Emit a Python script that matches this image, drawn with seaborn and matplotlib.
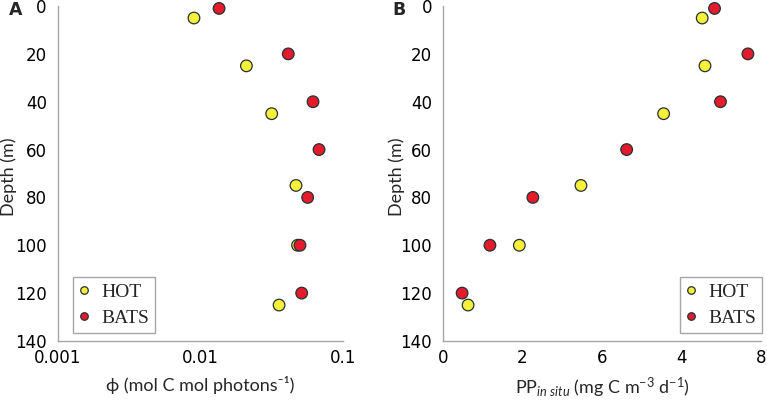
import pandas as pd
import matplotlib
matplotlib.use("Agg")
import matplotlib.pyplot as plt
import seaborn as sns

# depths (m)
hot_depth = [5, 25, 45, 75, 100, 125]
bats_depth = [1, 20, 40, 60, 80, 100, 120]

# panel A: quantum yield phi (mol C mol photons-1)
hot_phi = [0.0090, 0.0210, 0.0316, 0.0468, 0.0480, 0.0356]
bats_phi = [0.0135, 0.0413, 0.0616, 0.0679, 0.0565, 0.0499, 0.0513]

# panel B: in situ primary production
hot_pp = [6.52, 6.59, 5.55, 3.47, 1.92, 0.63]
bats_pp = [6.83, 7.67, 6.98, 4.62, 2.26, 1.18, 0.48]

y_ticks = [0, 20, 40, 60, 80, 100, 120, 140]
a_xticks = [0.001, 0.01, 0.1]
a_xticklabels = ['0.001', '0.01', '0.1']
b_xticks = [0, 2, 4, 6, 8]
b_xticklabels = ['0', '2', '6', '4', '8']

df_a = pd.DataFrame({
    'x': hot_phi + bats_phi,
    'depth': hot_depth + bats_depth,
    'site': ['HOT'] * len(hot_phi) + ['BATS'] * len(bats_phi),
})
df_b = pd.DataFrame({
    'x': hot_pp + bats_pp,
    'depth': hot_depth + bats_depth,
    'site': ['HOT'] * len(hot_pp) + ['BATS'] * len(bats_pp),
})

sns.set_style("white")
plt.rcParams['font.family'] = ['DejaVu Sans']
plt.rcParams['mathtext.fontset'] = 'custom'
plt.rcParams['mathtext.rm'] = 'Lato'
plt.rcParams['mathtext.it'] = 'Lato:italic'

palette = {'HOT': '#f7f03a', 'BATS': '#e31b2d'}
spine_col = '#a6a6a6'
label_font = ['Lato', 'DejaVu Sans']

fig = plt.figure(figsize=(7.67, 4.03), dpi=100)
ax_a = fig.add_axes([0.0756, 0.154, 0.3716, 0.831])
ax_b = fig.add_axes([0.5776, 0.154, 0.4146, 0.831])

for ax, df, ylab_x in [(ax_a, df_a, -0.145), (ax_b, df_b, -0.12)]:
    sns.scatterplot(data=df, x='x', y='depth', hue='site', palette=palette,
                    s=70, edgecolor='#263232', linewidth=0.9, ax=ax,
                    clip_on=False, zorder=3)
    ax.set_ylim(140, 0)
    ax.set_yticks(y_ticks)
    ax.set_ylabel('Depth (m)', family=label_font, fontsize=13)
    ax.yaxis.set_label_coords(ylab_x, 0.49)
    for s in ['top', 'right']:
        ax.spines[s].set_visible(False)
    for s in ['left', 'bottom']:
        ax.spines[s].set_color(spine_col)
        ax.spines[s].set_linewidth(1.0)
    ax.tick_params(which='both', direction='in', color=spine_col, labelsize=12,
                   labelcolor='black')
    ax.tick_params(which='major', length=3.5, width=0.8)
    ax.tick_params(which='minor', length=2, width=0.6)
    ax.tick_params(axis='y', pad=8)
    ax.tick_params(axis='x', pad=6)

ax_a.set_xscale('log')
ax_a.set_xlim(0.001, 0.1)
ax_a.set_xticks(a_xticks)
ax_a.set_xticklabels(a_xticklabels)
ax_a.set_xlabel('\u03d5 (mol C mol photons\u207b\u00b9)', family=label_font,
                fontsize=13, labelpad=6)

ax_b.set_xlim(0, 8)
ax_b.set_xticks(b_xticks)
ax_b.set_xticklabels(b_xticklabels)
ax_b.set_xlabel(r'PP$_{in\ situ}$ (mg C m$^{-3}$ d$^{-1}$)', family=label_font,
                fontsize=13, labelpad=6)

leg_font = {'family': 'Liberation Serif', 'size': 14}
for ax, anchor in [(ax_a, (0.053, 0.024)), (ax_b, (1.003, 0.024))]:
    handles, labels = ax.get_legend_handles_labels()
    loc = 'lower left' if anchor[0] < 0.5 else 'lower right'
    leg = ax.legend(handles, labels, loc=loc, bbox_to_anchor=anchor, prop=leg_font,
                    markerscale=0.65, fancybox=False, frameon=True, framealpha=1,
                    edgecolor=spine_col, borderpad=0.3, handlelength=0.5,
                    handletextpad=0.65, labelspacing=0.45, borderaxespad=0)
    leg.get_frame().set_linewidth(1.0)

fig.text(0.012, 0.975, 'A', fontsize=12.5, fontweight='bold', va='center')
fig.text(0.512, 0.975, 'B', fontsize=12.5, fontweight='bold', va='center')

fig.savefig('out.png', dpi=100)
